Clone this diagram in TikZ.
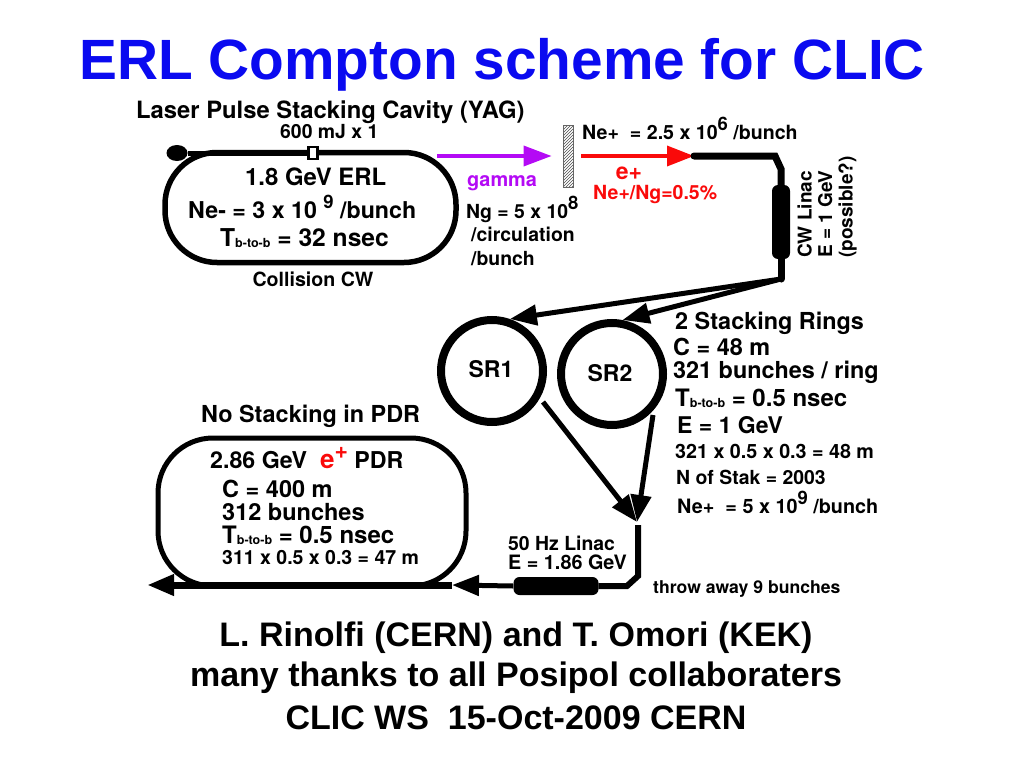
\documentclass[tikz,border=0pt]{standalone}
\usepackage{fontspec}
\setmainfont{TeX Gyre Heros}
\newfontfamily\titlefont{Liberation Sans}
\usetikzlibrary{arrows.meta,positioning,shapes.geometric,patterns}
\definecolor{titleblue}{HTML}{0A0AF0}
\definecolor{gammapurple}{HTML}{B40AF5}
\definecolor{eplusred}{HTML}{FA0A0A}
\newcommand{\fs}[1]{\fontsize{#1}{#1}\selectfont}
\newcommand{\tbb}{T\raisebox{-0.06em}{\fontsize{12.5}{12.5}\selectfont b-to-b}}
\newcommand{\upnum}[1]{\raisebox{0.42em}{\fontsize{18.5}{18.5}\selectfont #1}}
\tikzset{
  lbl/.style={anchor=base west,inner sep=0pt,font=\bfseries},
  ctr/.style={anchor=base,inner sep=0pt,align=center,font=\bfseries},
  track/.style={draw=black,rectangle,rounded corners=52pt,inner sep=0pt},
  ring/.style={circle,draw=black,line width=8pt,minimum size=102pt,inner sep=0pt},
  linac/.style={rectangle,fill=black,rounded corners=6pt,inner sep=0pt},
  beam/.style={line width=5pt,draw=black},
  thickbeam/.style={line width=7pt,draw=black,line cap=round},
  beamarr/.style={-{Triangle[length=27pt,width=20pt]},line width=5pt,draw=black},
  gammaarr/.style={-{Triangle[length=28pt,width=20pt]},line width=3.5pt,draw=gammapurple},
  redarr/.style={-{Triangle[length=27pt,width=20pt]},line width=3.5pt,draw=eplusred}
}
\begin{document}
\begin{tikzpicture}[x=1pt,y=-1pt]
    \useasboundingbox (0,0) rectangle (1024,768);

    \node[lbl,text=titleblue,font=\titlefont\bfseries\fs{56.8}] (title) at (79,79) {ERL Compton scheme for CLIC};

    % ERL loop
    \node[track,line width=5.5pt,minimum width=291pt,minimum height=110pt] (erl) at (310.5,207.5) {};
    \node[ellipse,fill=black,minimum width=21pt,minimum height=16pt,inner sep=0pt] (laser) at (177,153) {};
    \node[rectangle,draw=black,fill=white,line width=2.5pt,minimum width=9pt,minimum height=12pt,inner sep=0pt] (cavity) at (313,153) {};
    \draw[beam] (laser) -- (cavity);

    \node[lbl,font=\bfseries\fs{23.8}] (lasertxt) at (136,118) {Laser Pulse Stacking Cavity (YAG)};
    \node[lbl,font=\bfseries\fs{19.4}] (mj) at (280,138) {600 mJ x 1};
    \node[lbl,font=\bfseries\fs{23.9}] (erltxt) at (245,185) {1.8 GeV ERL};
    \node[lbl,font=\bfseries\fs{23.2}] (netxt) at (188,218) {Ne- = 3 x 10 \upnum{9} /bunch};
    \node[lbl,font=\bfseries\fs{24.6}] (tbtxt) at (220,246) {\tbb{} = 32 nsec};
    \node[ctr,font=\bfseries\fs{19.6}] (cwtxt) at (313,286) {Collision CW};

    % gamma and target
    \node[rectangle,draw=black!60,pattern=north east lines,pattern color=black!70,line width=0.8pt,minimum width=10pt,minimum height=62pt,inner sep=0pt] (target) at (568,156) {};
    \coordinate (gstart) at (437,156);
    \draw[gammaarr] (gstart) -- ([xshift=-11pt]target.west);
    \node[lbl,text=gammapurple,font=\bfseries\fs{19.9}] (gammatxt) at (467,186) {gamma};
    \node[lbl,font=\bfseries\fs{19.4}] (ngtxt) at (466,218) {Ng = 5 x 10\upnum{8}};
    \node[lbl,font=\bfseries\fs{19.4}] (circtxt) at (471,241) {/circulation};
    \node[lbl,font=\bfseries\fs{19.4}] (bunchtxt) at (471,265) {/bunch};

    % positrons and CW linac
    \node[lbl,font=\bfseries\fs{19.6}] (nptxt) at (582,139) {Ne+ ~= 2.5 x 10\upnum{6} /bunch};
    \coordinate (eplus) at (694,156);
    \draw[redarr] ([xshift=8pt]target.east) -- (eplus);
    \node[ctr,text=eplusred,font=\bfseries\fs{23}] (eptxt) at (629,179) {e+};
    \node[lbl,text=eplusred,font=\bfseries\fs{19.5}] (yieldtxt) at (593,199) {Ne+/Ng=0.5\%};
    \node[linac,minimum width=18pt,minimum height=74pt] (cwlinac) at (781,222) {};
    \coordinate (split) at (781,279);
    \draw[thickbeam] (eplus) -- (775,156) -- (781,169) -- (cwlinac.north);
    \draw[thickbeam] (cwlinac.south) -- (split);
    \node[anchor=west,rotate=90,inner sep=0pt,align=left,font=\bfseries\fontsize{19}{20.5}\selectfont] (cwtxt2) at (827,258)
      {CW Linac\\E = 1 GeV\\(possible?)};

    % stacking rings
    \node[ring] (sr1) at (492,371) {};
    \node[ring] (sr2) at (612,374) {};
    \node[font=\bfseries\fs{23},inner sep=0pt] (sr1txt) at (491,369) {SR1};
    \node[font=\bfseries\fs{23},inner sep=0pt] (sr2txt) at (610,373) {SR2};
    \draw[beamarr] (split) -- (sr1.71);
    \draw[beamarr] (split) -- (sr2.79);

    \node[lbl,font=\bfseries\fs{23.4}] (srtxt1) at (675,329) {2 Stacking Rings};
    \node[lbl,font=\bfseries\fs{23.4}] (srtxt2) at (673,355) {C = 48 m};
    \node[lbl,font=\bfseries\fs{23.4}] (srtxt3) at (673,378) {321 bunches / ring};
    \node[lbl,font=\bfseries\fs{24}] (srtxt4) at (675,406) {\tbb{} = 0.5 nsec};
    \node[lbl,font=\bfseries\fs{23}] (srtxt5) at (677,433) {E = 1 GeV};
    \node[lbl,font=\bfseries\fs{19.7}] (srtxt6) at (675,458) {321 x 0.5 x 0.3 = 48 m};
    \node[lbl,font=\bfseries\fs{19.4}] (srtxt7) at (676,484) {N of Stak = 2003};
    \node[lbl,font=\bfseries\fs{19.8}] (srtxt8) at (677,513) {Ne+ ~= 5 x 10\upnum{9} /bunch};

    % merge and 50 Hz linac
    \coordinate (sr1out) at (543,402);
    \coordinate (sr2out) at (653,415);
    \coordinate (merge) at (637,522);
    \coordinate (corner) at (638,576);
    \draw[beamarr] (sr1out) -- (merge);
    \draw[beamarr] (sr2out) -- (merge);
    \node[linac,minimum width=85pt,minimum height=18pt] (hzlinac) at (556,586) {};
    \draw[line width=6pt] (638,525) -- (corner) -- (627,586) -- (hzlinac.east);
    \coordinate (pdrin) at (452,585);
    \coordinate (pdrout) at (147,585);
    \draw[beamarr] (hzlinac.west) -- (pdrin);
    \node[lbl,font=\bfseries\fs{19.4}] (hztxt1) at (508,550) {50 Hz Linac};
    \node[lbl,font=\bfseries\fs{19.8}] (hztxt2) at (508,569) {E = 1.86 GeV};
    \node[lbl,font=\bfseries\fs{17.6}] (throwtxt) at (653,593) {throw away 9 bunches};

    % PDR
    \node[track,line width=5pt,minimum width=308pt,minimum height=148pt,rounded corners=55pt] (pdr) at (312,512) {};
    \draw[beamarr,line width=7pt] (pdrin) -- (pdrout);
    \node[lbl,font=\bfseries\fs{23.4}] (pdrtxt0) at (201,422) {No Stacking in PDR};
    \node[lbl,font=\bfseries\fs{23.2}] (pdrtxt1) at (210,468) {2.86 GeV ~{\color{eplusred}\fs{26}e\raisebox{0.35em}{\fs{23}+}} PDR};
    \node[lbl,font=\bfseries\fs{23.5}] (pdrtxt2) at (222,497) {C = 400 m};
    \node[lbl,font=\bfseries\fs{23.5}] (pdrtxt3) at (222,520) {312 bunches};
    \node[lbl,font=\bfseries\fs{24}] (pdrtxt4) at (222,543) {\tbb{} = 0.5 nsec};
    \node[lbl,font=\bfseries\fs{19.5}] (pdrtxt5) at (222,564) {311 x 0.5 x 0.3 = 47 m};

    % credits
    \node[ctr,font=\titlefont\bfseries\fs{34}] (credit1) at (516,646) {L. Rinolfi (CERN) and T. Omori (KEK)};
    \node[ctr,font=\titlefont\bfseries\fs{34}] (credit2) at (516,686) {many thanks to all Posipol collaboraters};
    \node[ctr,font=\titlefont\bfseries\fs{34}] (credit3) at (516,729) {CLIC WS ~15-Oct-2009 CERN};
\end{tikzpicture}
\end{document}
